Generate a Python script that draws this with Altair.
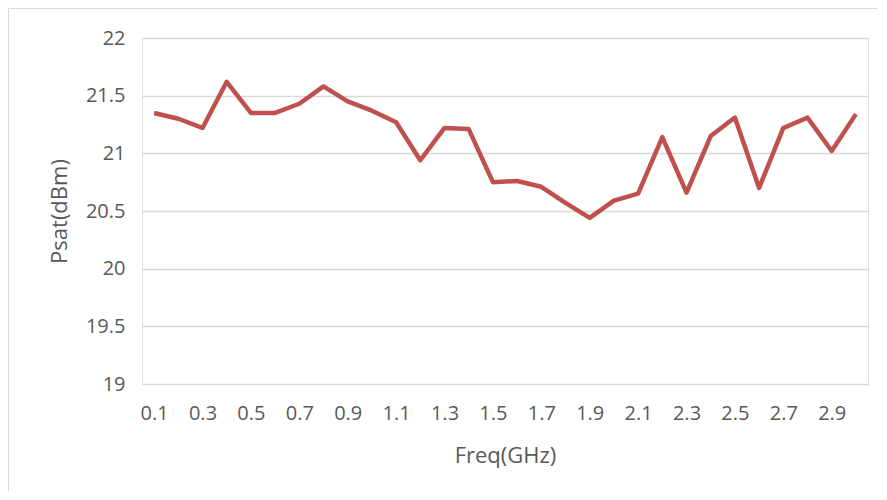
import altair as alt
import pandas as pd

freq = ["0.1", "0.2", "0.3", "0.4", "0.5", "0.6", "0.7", "0.8", "0.9", "1.0",
        "1.1", "1.2", "1.3", "1.4", "1.5", "1.6", "1.7", "1.8", "1.9", "2.0",
        "2.1", "2.2", "2.3", "2.4", "2.5", "2.6", "2.7", "2.8", "2.9", "3.0"]
psat = [21.35, 21.30, 21.22, 21.62, 21.35, 21.35, 21.43, 21.58, 21.45, 21.37,
        21.27, 20.94, 21.22, 21.21, 20.75, 20.76, 20.71, 20.57, 20.44, 20.59,
        20.65, 21.14, 20.66, 21.15, 21.31, 20.70, 21.22, 21.31, 21.02, 21.34]
x_labels = ["0.1", "0.3", "0.5", "0.7", "0.9", "1.1", "1.3", "1.5", "1.7", "1.9",
            "2.1", "2.3", "2.5", "2.7", "2.9"]
y_ticks = [19, 19.5, 20, 20.5, 21, 21.5, 22]

df = pd.DataFrame({"freq": freq, "psat": psat})

FONT = "Open Sans"
TXT = "#595959"

line = alt.Chart(df).mark_line(color="#C0504D", strokeWidth=4.5, strokeJoin="round").encode(
    x=alt.X("freq:O", sort=None,
            scale=alt.Scale(type="point", padding=0.5),
            axis=alt.Axis(values=x_labels, labelAngle=0, ticks=False, domain=False, grid=False,
                          labelFont=FONT, labelFontSize=20, labelColor=TXT, labelPadding=19,
                          title="Freq(GHz)", titleFont=FONT, titleFontSize=22,
                          titleFontWeight="normal", titleColor=TXT, titlePadding=22)),
    y=alt.Y("psat:Q",
            scale=alt.Scale(domain=[19, 22], nice=False, zero=False),
            axis=alt.Axis(values=y_ticks, format="~g", ticks=False, domain=False, grid=True,
                          gridColor="#D9D9D9", gridWidth=1.5,
                          labelFont=FONT, labelFontSize=20, labelColor=TXT, labelPadding=17,
                          title="Psat(dBm)", titleFont=FONT, titleFontSize=22,
                          titleFontWeight="normal", titleColor=TXT, titlePadding=14)),
)

border = alt.Chart(pd.DataFrame({"b": [0]})).mark_rect(
    fill=None, stroke="#D9D9D9", strokeWidth=1
).encode(
    x=alt.value(-133.5), y=alt.value(-29.5), x2=alt.value(900), y2=alt.value(600)
)

chart = alt.layer(border, line).properties(
    width=726, height=346,
    autosize=alt.AutoSizeParams(type="none"),
    padding={"left": 134, "top": 30, "right": 10, "bottom": 107},
).configure_view(stroke=None).configure(background="white")

chart.save("out.html", embed_options={"renderer": "svg", "actions": False})
